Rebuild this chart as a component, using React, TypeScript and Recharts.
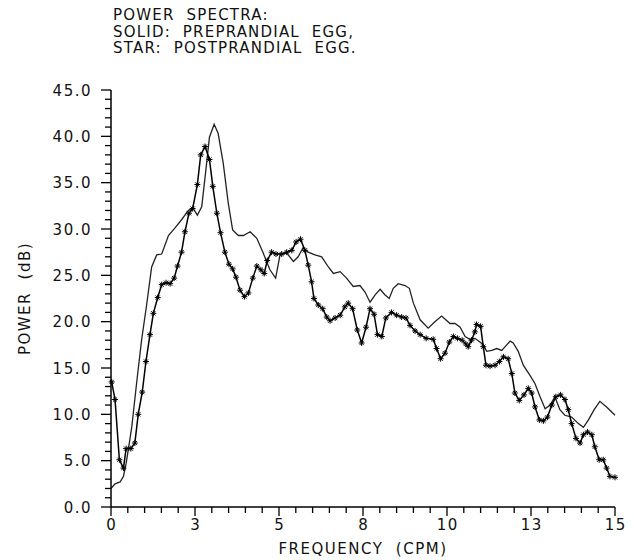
import { Line, LineChart, XAxis, YAxis } from 'recharts';

// solid curve: preprandial
const preFreq = [
  0, 0.12, 0.27, 0.37, 0.45, 0.52, 0.62, 0.76, 0.91, 1.06, 1.21, 1.36, 1.51, 1.71, 1.9, 2.1, 2.3, 2.43,
  2.57, 2.7, 2.8, 2.93, 3.07, 3.19, 3.34, 3.49, 3.62, 3.79, 3.94, 4.14, 4.34, 4.53, 4.73, 4.9, 5.03, 5.23,
  5.43, 5.57, 5.72, 5.87, 6.07, 6.27, 6.47, 6.62, 6.82, 7.01, 7.21, 7.41, 7.56, 7.71, 7.86, 8.01, 8.15,
  8.28, 8.4, 8.55, 8.75, 8.88, 9.0, 9.2, 9.44, 9.64, 9.84, 10.09, 10.24, 10.39, 10.54, 10.68, 10.83, 10.98,
  11.08, 11.18, 11.33, 11.48, 11.63, 11.73, 11.88, 11.97, 12.12, 12.27, 12.47, 12.62, 12.77, 12.92, 13.07,
  13.21, 13.36, 13.51, 13.71, 13.91, 14.06, 14.21, 14.38, 14.55, 14.75, 15.0,
];
const prePower = [
  2.0, 2.5, 2.7, 3.3, 4.7, 6.3, 8.7, 13.3, 18.0, 21.8, 25.9, 27.2, 27.3, 29.3, 30.1, 31.0, 32.0, 32.3,
  31.5, 32.4, 35.6, 39.9, 41.3, 40.3, 37.1, 32.8, 29.9, 29.3, 29.3, 29.7, 29.0, 27.4, 25.6, 24.7, 27.2, 27.4,
  26.5, 27.0, 28.0, 27.5, 27.2, 27.0, 25.9, 25.2, 25.4, 24.7, 23.8, 23.9, 23.2, 22.1, 22.9, 23.5, 22.9,
  22.5, 23.6, 24.1, 23.9, 23.6, 22.0, 20.2, 19.3, 20.0, 20.6, 19.8, 19.8, 19.4, 18.4, 18.1, 18.2, 17.8,
  17.5, 16.8, 16.9, 17.1, 16.9, 17.3, 17.9, 17.7, 16.8, 15.3, 14.2, 13.3, 11.9, 10.6, 11.0,
  11.9, 10.5, 9.9, 9.7, 9.0, 8.6, 9.4, 10.5, 11.4, 10.8, 9.9,
];

// star curve: postprandial
const postFreq = [
  0.02, 0.12, 0.25, 0.37, 0.45, 0.59, 0.71, 0.81, 0.93, 1.04, 1.16, 1.26, 1.39, 1.51, 1.64, 1.76, 1.88,
  1.98, 2.1, 2.2, 2.32, 2.43, 2.57, 2.67, 2.8, 2.93, 3.03, 3.15, 3.26, 3.39, 3.51, 3.62, 3.72, 3.84, 3.97,
  4.09, 4.22, 4.34, 4.46, 4.56, 4.65, 4.78, 4.91, 5.08, 5.23, 5.38, 5.51, 5.64, 5.77, 5.87, 5.97, 6.04,
  6.17, 6.3, 6.42, 6.52, 6.67, 6.82, 6.96, 7.06, 7.19, 7.33, 7.46, 7.59, 7.71, 7.83, 7.93, 8.06, 8.18,
  8.35, 8.5, 8.65, 8.78, 8.9, 9.05, 9.2, 9.38, 9.59, 9.69, 9.81, 9.94, 10.07, 10.19, 10.31, 10.45, 10.56,
  10.63, 10.73, 10.83, 10.88, 11.0, 11.08, 11.16, 11.28, 11.43, 11.56, 11.68, 11.82, 11.93, 12.02, 12.15,
  12.29, 12.42, 12.52, 12.62, 12.75, 12.87, 12.99, 13.12, 13.24, 13.38, 13.51, 13.61, 13.71, 13.84, 13.96,
  14.06, 14.18, 14.31, 14.4, 14.53, 14.65, 14.75, 14.85, 15.0,
];
const postPower = [
  13.5, 11.6, 5.1, 4.2, 6.3, 6.3, 6.9, 10.0, 12.4, 15.7, 18.6, 20.9, 22.6, 24.0, 24.2, 24.1, 24.7,
  26.0, 27.5, 29.7, 31.7, 32.2, 34.8, 38.0, 38.9, 37.5, 34.6, 31.7, 29.6, 27.5, 26.2, 25.7, 24.8, 23.4, 22.7,
  23.1, 24.7, 26.0, 25.6, 25.2, 26.6, 27.5, 27.3, 27.3, 27.5, 27.7, 28.6, 28.9, 27.7, 26.1, 24.3, 22.5,
  21.8, 21.4, 20.5, 20.1, 20.4, 20.7, 21.6, 22.0, 21.4, 19.1, 17.7, 19.4, 21.4, 20.8, 18.6, 18.4, 20.4,
  21.0, 20.7, 20.5, 20.4, 19.6, 19.0, 18.6, 18.2, 18.1, 17.1, 16.0, 16.6, 17.8, 18.4, 18.2, 18.0, 17.6,
  17.3, 18.0, 18.9, 19.7, 19.5, 17.3, 15.3, 15.2, 15.3, 15.7, 16.2, 16.0, 14.4, 12.3, 11.5,
  12.1, 12.8, 12.3, 10.8, 9.4, 9.3, 9.7, 11.0, 11.9, 12.1, 11.6, 10.5, 9.0, 7.4, 6.9,
  7.8, 8.1, 7.8, 6.5, 5.1, 5.1, 4.2, 3.3, 3.2,
];

const xTicks = [
  0, 0.5, 1, 1.5, 2, 2.5, 3, 3.5, 4, 4.5, 5, 5.5, 6, 6.5, 7, 7.5, 8, 8.5, 9, 9.5, 10, 10.5, 11, 11.5,
  12, 12.5, 13, 13.5, 14, 14.5, 15,
];
const xLabeled = [0, 2.5, 5, 7.5, 10, 12.5, 15];
const yTicks = [
  0, 1, 2, 3, 4, 5, 6, 7, 8, 9, 10, 11, 12, 13, 14, 15, 16, 17, 18, 19, 20, 21, 22, 23, 24, 25, 26, 27,
  28, 29, 30, 31, 32, 33, 34, 35, 36, 37, 38, 39, 40, 41, 42, 43, 44, 45,
];
const yLabeled = [0, 5, 10, 15, 20, 25, 30, 35, 40, 45];

const titleLines = ['POWER  SPECTRA:', 'SOLID:  PREPRANDIAL  EGG,', 'STAR:  POSTPRANDIAL  EGG.'];

const preData = preFreq.map((f, i) => ({ f, v: prePower[i] }));
const postData = postFreq.map((f, i) => ({ f, v: postPower[i] }));

const font = '"DejaVu Sans", sans-serif';
const textStyle = { fontFamily: font, fontSize: 15, letterSpacing: 1.5, fill: '#111' };

function XTick({ x, y, payload }: any) {
  const major = xLabeled.includes(payload.value);
  return (
    <g>
      <line x1={x} x2={x} y1={y} y2={y + (major ? 9 : 6)} stroke="#000" strokeWidth={1.3} />
      {major && (
        <text x={x + 0.75} y={y + 23} textAnchor="middle" style={textStyle}>
          {Math.round(payload.value)}
        </text>
      )}
    </g>
  );
}

function YTick({ x, y, payload }: any) {
  const major = yLabeled.includes(payload.value);
  return (
    <g>
      <line x1={x - (major ? 10 : 6)} x2={x} y1={y} y2={y} stroke="#000" strokeWidth={1.3} />
      {major && (
        <text x={x - 19} y={y + 5.5} textAnchor="end" style={textStyle}>
          {payload.value.toFixed(1)}
        </text>
      )}
    </g>
  );
}

function StarDot({ cx, cy }: any) {
  if (cx == null || cy == null) return null;
  const r = 3;
  const d = 2.1;
  return (
    <g stroke="#000" strokeWidth={1}>
      <line x1={cx - r} x2={cx + r} y1={cy} y2={cy} />
      <line x1={cx} x2={cx} y1={cy - r} y2={cy + r} />
      <line x1={cx - d} x2={cx + d} y1={cy - d} y2={cy + d} />
      <line x1={cx - d} x2={cx + d} y1={cy + d} y2={cy - d} />
    </g>
  );
}

export default function App() {
  return (
    <div style={{ position: 'absolute', left: 0, top: 0, width: 634, height: 560, background: '#fff' }}>
      <div
        style={{
          position: 'absolute',
          left: 113,
          top: 7,
          fontFamily: font,
          fontSize: 15,
          letterSpacing: 1.2,
          lineHeight: '16.5px',
          color: '#111',
          whiteSpace: 'pre',
        }}
      >
        {titleLines.map((t) => (
          <div key={t}>{t}</div>
        ))}
      </div>
      <LineChart width={634} height={560} margin={{ top: 90, right: 19, bottom: 23, left: 0 }}>
        <XAxis
          dataKey="f"
          type="number"
          domain={[0, 15]}
          ticks={xTicks}
          interval={0}
          tickSize={0}
          tickMargin={0}
          tickLine={false}
          tick={<XTick />}
          height={30}
          axisLine={{ stroke: '#000', strokeWidth: 1.5 }}
          allowDuplicatedCategory={false}
          label={({ viewBox }: any) => (
            <text
              x={viewBox.x + viewBox.width / 2}
              y={viewBox.y + 47}
              textAnchor="middle"
              style={{ ...textStyle, whiteSpace: 'pre' }}
            >
              FREQUENCY  (CPM)
            </text>
          )}
        />
        <YAxis
          type="number"
          domain={[0, 45]}
          ticks={yTicks}
          interval={0}
          tickSize={0}
          tickMargin={0}
          tickLine={false}
          tick={<YTick />}
          width={111}
          axisLine={{ stroke: '#000', strokeWidth: 1.5 }}
          label={({ viewBox }: any) => (
            <text
              transform={`translate(30, ${viewBox.y + viewBox.height / 2}) rotate(-90)`}
              textAnchor="middle"
              style={{ ...textStyle, whiteSpace: 'pre' }}
            >
              POWER  (dB)
            </text>
          )}
        />
        <Line
          data={preData}
          dataKey="v"
          type="linear"
          stroke="#222"
          strokeWidth={1.3}
          dot={false}
          activeDot={false}
          isAnimationActive={false}
        />
        <Line
          data={postData}
          dataKey="v"
          type="linear"
          stroke="#000"
          strokeWidth={1.5}
          dot={(p: any) => <StarDot key={`s${p.index}`} cx={p.cx} cy={p.cy} />}
          activeDot={false}
          isAnimationActive={false}
        />
      </LineChart>
    </div>
  );
}
